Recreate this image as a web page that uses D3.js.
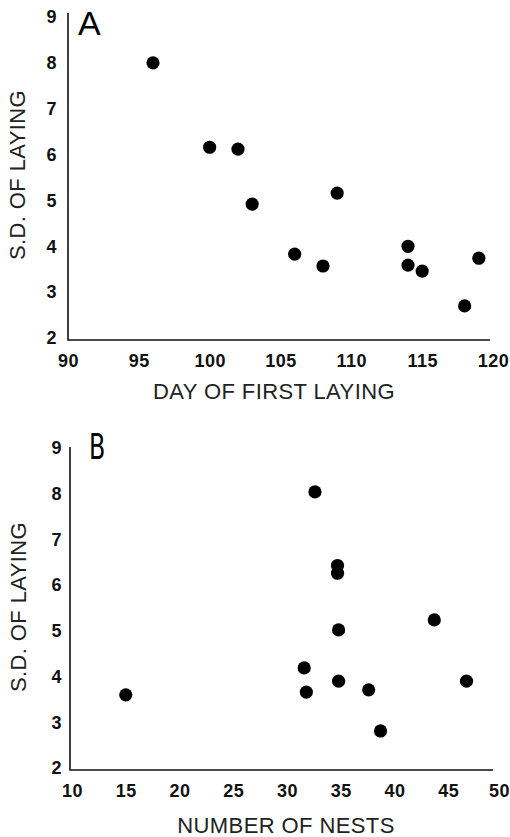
<!DOCTYPE html>
<html>
<head>
<meta charset="utf-8">
<script src="https://cdn.jsdelivr.net/npm/d3@7"></script>
<style>
  body { margin: 0; background: #fff; }
  svg { display: block; }
  .tick text { font-family: "Liberation Sans", Arial, sans-serif; font-weight: bold; font-size: 18px; fill: #111; letter-spacing: 0.5px; }
  .lab { font-family: "Liberation Sans", Arial, sans-serif; font-size: 22px; fill: #222; letter-spacing: 0.4px; }
</style>
</head>
<body>
<div id="chart"></div>
<script>
// panel A: day of first laying vs s.d. of laying
const dayFirst = [96, 100, 102, 103, 109, 106, 108, 114, 114, 115, 118, 119];
const sdA      = [8.0, 6.16, 6.12, 4.92, 5.16, 3.83, 3.57, 4.0, 3.59, 3.46, 2.7, 3.74];

// panel B: number of nests vs s.d. of laying
const nests = [15, 32.6, 34.7, 34.7, 34.8, 31.6, 31.8, 34.8, 37.6, 38.7, 43.7, 46.7];
const sdB   = [3.6, 8.04, 6.43, 6.26, 5.02, 4.19, 3.66, 3.9, 3.71, 2.81, 5.24, 3.9];

const ticksA = [90, 95, 100, 105, 110, 115, 120];
const ticksB = [10, 15, 20, 25, 30, 35, 40, 45, 50];
const ticksY = [2, 3, 4, 5, 6, 7, 8, 9];

const width = 510, height = 837;

const svg = d3.select("#chart").append("svg")
  .attr("width", width)
  .attr("height", height);

function drawPanel(opt) {
  const x = d3.scaleLinear().domain(opt.xDomain).range(opt.xRange);
  const y = d3.scaleLinear().domain([2, 9]).range(opt.yRange);
  const g = svg.append("g");

  const x0 = opt.axisX, yb = opt.axisY;

  // axis lines (no tick marks in the original)
  g.append("path")
    .attr("d", `M${x0},${y(9) - opt.topExt}V${yb}H${opt.xEnd}`)
    .attr("fill", "none")
    .attr("stroke", "#111")
    .attr("stroke-width", 1.6);

  g.append("g")
    .attr("transform", `translate(${x0},0)`)
    .call(d3.axisLeft(y).tickValues(ticksY).tickFormat(d3.format("d")).tickSize(0).tickPadding(opt.yPad))
    .call(a => a.select(".domain").remove());

  const xa = g.append("g")
    .attr("transform", `translate(0,${yb})`)
    .call(d3.axisBottom(x).tickValues(opt.xTicks).tickFormat(d3.format("d")).tickSize(0).tickPadding(14))
    .call(a => a.select(".domain").remove());

  // keep the last label inside the page
  xa.selectAll(".tick").filter((d, i, n) => i === n.length - 1)
    .select("text").attr("dx", -opt.lastShift);

  g.append("g")
    .selectAll("circle")
    .data(opt.xs.map((v, i) => [v, opt.ys[i]]))
    .join("circle")
    .attr("cx", d => x(d[0]))
    .attr("cy", d => y(d[1]))
    .attr("r", 6.6)
    .attr("fill", "#000");

  g.append("text")
    .attr("class", "lab")
    .attr("text-anchor", "middle")
    .attr("x", opt.xLab[0])
    .attr("y", opt.xLab[1])
    .text(opt.xTitle);

  g.append("text")
    .attr("class", "lab")
    .attr("text-anchor", "middle")
    .attr("transform", `translate(${opt.yLab[0]},${opt.yLab[1]}) rotate(-90)`)
    .text("S.D. OF LAYING");

  g.append("text")
    .attr("transform", opt.letterT)
    .style("font-family", opt.letterFont)
    .style("font-size", opt.letterSize + "px")
    .attr("fill", "#000")
    .text(opt.letter);
}

drawPanel({
  xDomain: [90, 120], xRange: [68, 493], yRange: [338, 17],
  axisX: 68, axisY: 340, xEnd: 490, topExt: 4, yPad: 11, lastShift: 0,
  xTicks: ticksA, xs: dayFirst, ys: sdA,
  xTitle: "DAY OF FIRST LAYING", xLab: [274, 399], yLab: [25, 175],
  letter: "A", letterT: "translate(78,35)", letterFont: "'Liberation Sans', Arial, sans-serif", letterSize: 34
});

drawPanel({
  xDomain: [10, 50], xRange: [72, 502], yRange: [768, 448],
  axisX: 70, axisY: 770, xEnd: 493, topExt: 1, yPad: 8, lastShift: 3,
  xTicks: ticksB, xs: nests, ys: sdB,
  xTitle: "NUMBER OF NESTS", xLab: [286, 833], yLab: [26, 607],
  letter: "B", letterT: "translate(89,459) scale(0.68,1)", letterFont: "'DejaVu Sans', sans-serif", letterSize: 35
});
</script>
</body>
</html>
